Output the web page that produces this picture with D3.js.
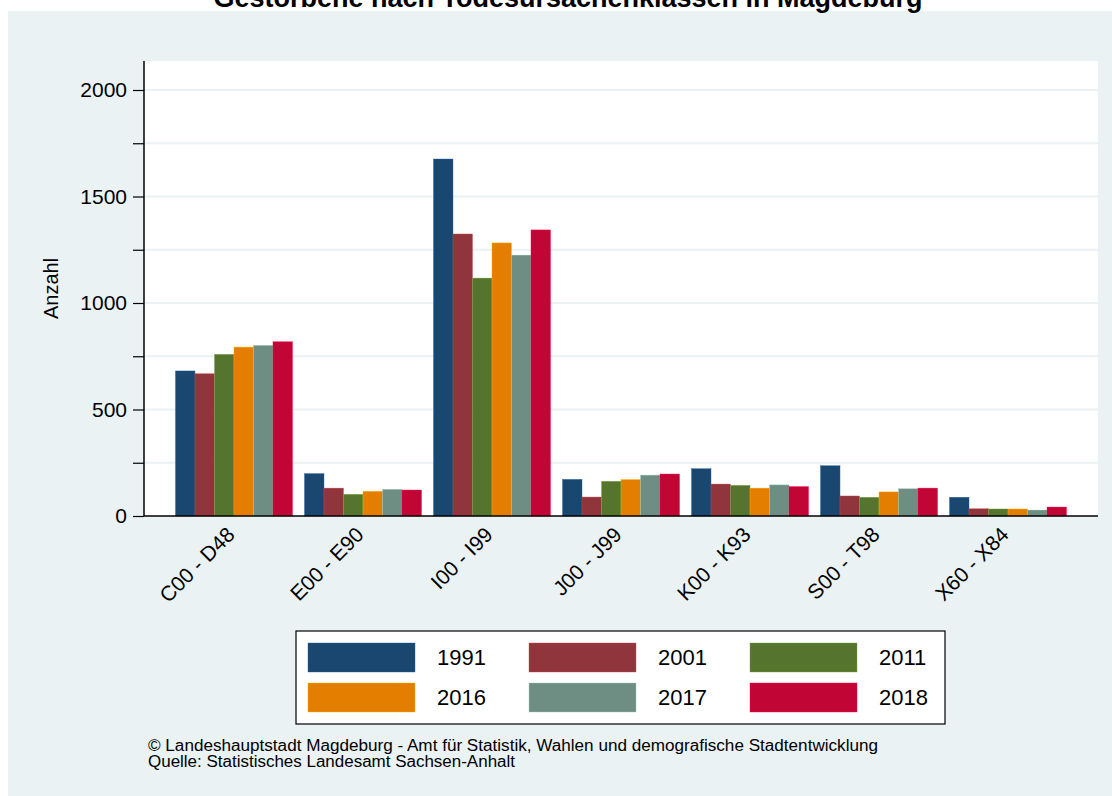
<!DOCTYPE html>
<html>
<head>
<meta charset="utf-8">
<script src="https://cdn.jsdelivr.net/npm/d3@7"></script>
<style>
    body { margin: 0; background: #fff; }
    svg { display: block; font-family: "Liberation Sans", Arial, Helvetica, sans-serif; }
</style>
</head>
<body>
<svg id="chart" width="1112" height="796"></svg>
<script>
(function() {

    var categories = ['C00 - D48', 'E00 - E90', 'I00 - I99', 'J00 - J99', 'K00 - K93', 'S00 - T98', 'X60 - X84'];
    var years = ['1991', '2001', '2011', '2016', '2017', '2018'];
    var colors = ['#1a476f', '#90353b', '#55752f', '#e37e00', '#6e8e84', '#c10534'];

    // values per year, in order of categories
    var v1991 = [681, 199, 1676, 172, 222, 236, 88];
    var v2001 = [668, 131, 1324, 89, 150, 94, 34];
    var v2011 = [759, 102, 1117, 163, 144, 88, 33];
    var v2016 = [793, 116, 1282, 171, 131, 113, 33];
    var v2017 = [801, 125, 1225, 192, 146, 128, 28];
    var v2018 = [818, 122, 1343, 197, 138, 131, 42];
    var series = [v1991, v2001, v2011, v2016, v2017, v2018];

    var yTicks = [0, 500, 1000, 1500, 2000];
    var yGrid = d3.range(0, 2001, 250);

    var W = 1112, H = 796,
        left = 144, right = 1098, top = 61, bottom = 516;

    var svg = d3.select('#chart');

    // graph region
    svg.append('rect')
        .attr('x', 8).attr('y', 11)
        .attr('width', W - 8).attr('height', H - 11)
        .attr('fill', '#eaf2f3');

    // title (clipped at top in original)
    svg.append('text')
        .attr('x', 568).attr('y', 7)
        .attr('text-anchor', 'middle')
        .attr('font-size', 27)
        .attr('font-weight', 'bold')
        .text('Gestorbene nach Todesursachenklassen in Magdeburg');

    // plot region
    svg.append('rect')
        .attr('x', left).attr('y', top)
        .attr('width', right - left).attr('height', bottom - top)
        .attr('fill', '#fff');

    var x = d3.scaleBand()
        .domain(categories)
        .range([left, right])
        .paddingInner(0.093)
        .paddingOuter(0.244);

    var xs = d3.scaleBand()
        .domain(years)
        .range([0, x.bandwidth()]);

    var y = d3.scaleLinear()
        .domain([0, 2000])
        .range([bottom, 90]);

    // grid
    svg.append('g')
        .selectAll('line')
        .data(yGrid.filter(function(d) { return d > 0; }))
        .enter()
        .append('line')
        .attr('x1', left).attr('x2', right)
        .attr('y1', function(d) { return y(d); })
        .attr('y2', function(d) { return y(d); })
        .attr('stroke', '#eaf2f3')
        .attr('stroke-width', 2);

    // bars
    var rows = [];
    categories.forEach(function(c, i) {
        years.forEach(function(yr, j) {
            rows.push({ cat: c, year: yr, value: series[j][i], color: colors[j] });
        });
    });

    svg.append('g')
        .selectAll('rect')
        .data(rows)
        .enter()
        .append('rect')
        .attr('x', function(d) { return x(d.cat) + xs(d.year); })
        .attr('y', function(d) { return y(d.value); })
        .attr('width', xs.bandwidth())
        .attr('height', function(d) { return y(0) - y(d.value); })
        .attr('fill', function(d) { return d.color; })
        .attr('stroke', function(d) { return d3.color(d.color).brighter(1).toString(); })
        .attr('stroke-width', 0.4);

    // y axis
    var yAxis = d3.axisLeft(y)
        .tickValues(yGrid)
        .tickSize(11)
        .tickPadding(6)
        .tickFormat(function(d) { return yTicks.indexOf(d) >= 0 ? d : ''; });

    var gy = svg.append('g')
        .attr('transform', 'translate(' + left + ',0)')
        .call(yAxis);
    gy.select('.domain').remove();
    gy.selectAll('line').attr('stroke', '#000').attr('stroke-width', 1.2);
    gy.selectAll('text').attr('font-size', 21).attr('fill', '#000')
        .attr('font-family', '"Liberation Sans", Arial, sans-serif');
    svg.append('line')
        .attr('x1', left).attr('x2', left)
        .attr('y1', top).attr('y2', bottom)
        .attr('stroke', '#000').attr('stroke-width', 1.5);

    svg.append('text')
        .attr('transform', 'translate(58,' + ((top + bottom) / 2) + ') rotate(-90)')
        .attr('text-anchor', 'middle')
        .attr('font-size', 20)
        .text('Anzahl');

    // x axis
    var xAxis = d3.axisBottom(x).tickSize(0).tickPadding(0);
    var gx = svg.append('g')
        .attr('transform', 'translate(0,' + bottom + ')')
        .call(xAxis);
    gx.select('.domain').remove();
    gx.selectAll('text')
        .attr('font-size', 21)
        .attr('fill', '#000')
        .attr('font-family', '"Liberation Sans", Arial, sans-serif')
        .attr('text-anchor', 'end')
        .attr('dy', null)
        .attr('transform', 'translate(2,20) rotate(-45)');
    svg.append('line')
        .attr('x1', left).attr('x2', right)
        .attr('y1', bottom).attr('y2', bottom)
        .attr('stroke', '#000').attr('stroke-width', 1.5);

    // legend
    var lg = svg.append('g');
    lg.append('rect')
        .attr('x', 296).attr('y', 631)
        .attr('width', 649).attr('height', 93)
        .attr('fill', '#fff')
        .attr('stroke', '#000')
        .attr('stroke-width', 1.2);

    var colX = [308, 529, 750];
    var rowY = [643, 683];
    var items = lg.selectAll('g.item')
        .data(years)
        .enter()
        .append('g')
        .attr('transform', function(d, i) {
            return 'translate(' + colX[i % 3] + ',' + rowY[Math.floor(i / 3)] + ')';
        });
    items.append('rect')
        .attr('width', 107).attr('height', 29)
        .attr('fill', function(d, i) { return colors[i]; })
        .attr('stroke', function(d, i) { return d3.color(colors[i]).brighter(1).toString(); })
        .attr('stroke-width', 0.4);
    items.append('text')
        .attr('x', 129).attr('y', 22)
        .attr('font-size', 22)
        .text(function(d) { return d; });

    // notes
    svg.append('text')
        .attr('x', 148).attr('y', 751)
        .attr('font-size', 16)
        .attr('textLength', 730)
        .attr('lengthAdjust', 'spacingAndGlyphs')
        .text('\u00a9  Landeshauptstadt Magdeburg - Amt f\u00fcr Statistik, Wahlen und demografische Stadtentwicklung');
    svg.append('text')
        .attr('x', 148).attr('y', 767)
        .attr('font-size', 16)
        .attr('textLength', 367)
        .attr('lengthAdjust', 'spacingAndGlyphs')
        .text('Quelle: Statistisches Landesamt Sachsen-Anhalt');

})();
</script>
</body>
</html>
